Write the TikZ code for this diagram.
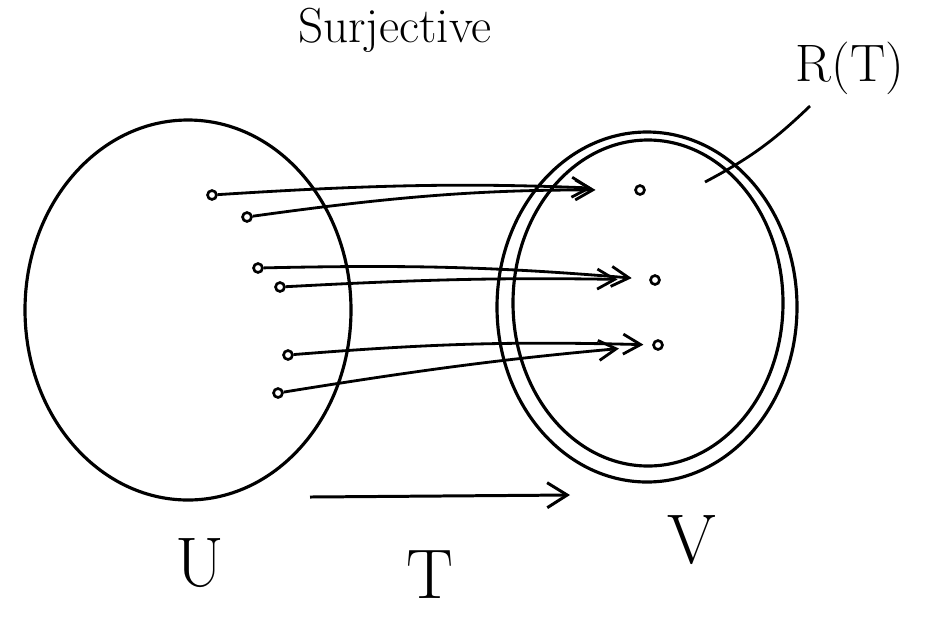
\documentclass[tikz,border=0pt]{standalone}
\usepackage{xcolor}
\usepackage{tikz}
\usetikzlibrary{arrows.meta,positioning,calc}

\tikzset{
  elt/.style={draw,circle,line width=1.5pt,inner sep=1.8pt},
  mapsto/.style={line width=1.6pt,-{Straight Barb[length=3.5mm,width=4mm]},shorten >=6pt},
  setline/.style={line width=1.8pt},
  hand/.style={font=\fontsize{40}{40}\selectfont}
}

\begin{document}
\begin{tikzpicture}[x=0.02cm,y=-0.02cm]
\useasboundingbox (0,0) rectangle (932,620);
\node[font=\fontsize{28}{28}\selectfont,inner sep=1pt] (title) at (395,30) {Surjective};
% the two sets
\draw[setline] (188,310) ellipse [x radius=163,y radius=190];
\draw[setline] (647,307) ellipse [x radius=150,y radius=175];
\draw[setline] (648,303) ellipse [x radius=135,y radius=163];
% range label
\node[font=\fontsize{30}{30}\selectfont] (rt) at (850,68) {R(T)};
\coordinate (rtend) at (705,182);
\draw[line width=1.6pt] (810,106) to[bend left=8] (rtend);
% elements of U
\node[elt] (u1) at (212,195) {};
\node[elt] (u2) at (247,217) {};
\node[elt] (u3) at (258,268) {};
\node[elt] (u4) at (280,287) {};
\node[elt] (u5) at (288,355) {};
\node[elt] (u6) at (278,393) {};
% elements of V
\node[elt] (v1) at (640,190) {};
\node[elt] (v2) at (655,280) {};
\node[elt] (v3) at (658,345) {};
% the mapping
\draw[mapsto,shorten >=24pt] (u1) to[bend left=3] (v1);
\draw[mapsto,shorten >=22pt] (u2) to[bend left=4] (v1);
\draw[mapsto,shorten >=10pt] (u3) to[bend left=3] (v2);
\draw[mapsto,shorten >=18pt] (u4) to[bend left=2] (v2);
\draw[mapsto,shorten >=5pt] (u5) to[bend left=3] (v3);
\draw[mapsto,shorten >=19pt] (u6) to[bend left=2] (v3);
% labels and T
\node[hand] (lu) at (200,563) {U};
\node[hand] (lv) at (692,540) {V};
\coordinate (ts) at (310,497);
\coordinate (te) at (570,495);
\draw[line width=1.7pt,-{Straight Barb[length=4mm,width=5mm]}] (ts) -- (te);
\node[hand] (lt) at (430,575) {T};
\end{tikzpicture}
\end{document}
